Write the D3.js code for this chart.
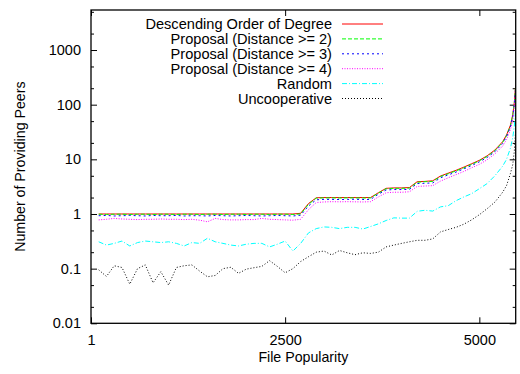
<!DOCTYPE html>
<html>
<head>
<meta charset="utf-8">
<script src="https://cdn.jsdelivr.net/npm/d3@7"></script>
<style>
  html, body { margin: 0; padding: 0; background: #fff; }
  svg { display: block; font-family: "Liberation Sans", Arial, sans-serif; }
</style>
</head>
<body>
<svg id="chart" width="520" height="374"></svg>
<script>
// File popularity rank (x) at which each series was sampled
const popularity = [
  100, 200, 300, 400, 500, 600, 700, 800, 900, 1000,
  1100, 1200, 1300, 1400, 1500, 1600, 1700, 1800, 1900, 2000,
  2100, 2200, 2300, 2400, 2500, 2600, 2700, 2800, 2900, 3000,
  3100, 3200, 3300, 3400, 3500, 3600, 3700, 3800, 3900, 4000,
  4100, 4200, 4300, 4400, 4500, 4600, 4700, 4800, 4900, 5000,
  5100, 5200, 5300, 5350, 5400, 5430, 5450, 5468
];

// Number of providing peers per strategy
const descendingOrder = [
  1, 1, 1, 1, 1, 1, 1, 1, 1, 1,
  1, 1, 1, 1, 1, 1, 1, 1, 1, 1,
  1, 1, 1, 1, 1, 1, 1.03, 1.55, 1.98, 2,
  2, 2, 2, 2, 2, 2, 2.45, 2.95, 3, 3,
  3.05, 3.9, 3.95, 4.05, 4.95, 5.6, 6.3, 7.2, 8.3, 9.6,
  11.6, 14.8, 21, 28, 42, 65, 110, 230
];
const proposalDist2 = [
  0.99, 0.98, 0.99, 0.99, 0.98, 0.99, 0.99, 0.98, 0.99, 0.99,
  0.98, 0.99, 0.99, 0.98, 0.99, 0.99, 0.98, 0.99, 0.99, 0.98,
  0.99, 0.99, 0.98, 0.99, 0.99, 0.98, 1.0, 1.5, 1.95, 1.97,
  1.97, 1.96, 1.97, 1.97, 1.96, 1.97, 2.4, 2.9, 2.95, 2.95,
  2.97, 3.8, 3.9, 3.95, 4.85, 5.45, 6.15, 7.0, 8.1, 9.4,
  11.3, 14.4, 20.5, 27, 41, 63, 105, 225
];
const proposalDist3 = [
  0.93, 0.94, 0.92, 0.93, 0.94, 0.93, 0.92, 0.94, 0.93, 0.93,
  0.94, 0.92, 0.93, 0.93, 0.92, 0.94, 0.93, 0.92, 0.93, 0.94,
  0.93, 0.92, 0.93, 0.94, 0.93, 0.92, 0.95, 1.4, 1.82, 1.85,
  1.85, 1.84, 1.85, 1.86, 1.84, 1.85, 2.3, 2.75, 2.8, 2.8,
  2.82, 3.6, 3.65, 3.7, 4.6, 5.2, 5.85, 6.7, 7.7, 9.0,
  10.8, 13.8, 19.5, 26, 39, 60, 100, 215
];
const proposalDist4 = [
  0.78, 0.8, 0.83, 0.81, 0.8, 0.79, 0.8, 0.8, 0.81, 0.8,
  0.8, 0.79, 0.8, 0.77, 0.72, 0.83, 0.79, 0.78, 0.78, 0.79,
  0.79, 0.83, 0.8, 0.79, 0.78, 0.77, 0.8, 1.2, 1.62, 1.66,
  1.68, 1.67, 1.68, 1.67, 1.66, 1.68, 2.05, 2.45, 2.5, 2.5,
  2.55, 3.2, 3.25, 3.3, 4.0, 4.6, 5.25, 6.0, 7.0, 8.1,
  9.8, 12.6, 17.5, 23, 35, 52, 90, 190
];
const randomChoice = [
  0.31, 0.27, 0.29, 0.32, 0.26, 0.3, 0.32, 0.31, 0.3, 0.31,
  0.29, 0.26, 0.3, 0.29, 0.36, 0.31, 0.29, 0.27, 0.26, 0.28,
  0.29, 0.29, 0.25, 0.28, 0.32, 0.21, 0.29, 0.45, 0.54, 0.58,
  0.57, 0.54, 0.57, 0.57, 0.53, 0.59, 0.66, 0.76, 0.85, 0.84,
  0.84, 1.12, 1.17, 1.13, 1.35, 1.42, 1.75, 2.05, 2.35, 2.9,
  3.6, 5.0, 7.5, 10, 16, 25, 40, 90
];
const uncooperative = [
  0.095, 0.072, 0.113, 0.105, 0.052, 0.1, 0.117, 0.055, 0.088, 0.05,
  0.105, 0.113, 0.117, 0.09, 0.071, 0.075, 0.1, 0.106, 0.082, 0.098,
  0.104, 0.11, 0.14, 0.11, 0.084, 0.1, 0.135, 0.165, 0.2, 0.21,
  0.178, 0.215, 0.195, 0.18, 0.195, 0.19, 0.2, 0.25, 0.27, 0.29,
  0.31, 0.33, 0.33, 0.35, 0.47, 0.52, 0.57, 0.65, 0.78, 0.97,
  1.25, 1.65, 2.5, 3.3, 5.5, 8, 14, 35
];

const seriesNames = [
  "Descending Order of Degree",
  "Proposal (Distance >= 2)",
  "Proposal (Distance >= 3)",
  "Proposal (Distance >= 4)",
  "Random",
  "Uncooperative"
];
const xTickValues = [1, 2500, 5000];
const yTickValues = [0.01, 0.1, 1, 10, 100, 1000];
const yTickLabels = ["0.01", "0.1", "1", "10", "100", "1000"];

const series = [
  { name: seriesNames[0], values: descendingOrder, color: "#ff0000", dash: null },
  { name: seriesNames[1], values: proposalDist2,  color: "#00ff00", dash: "4,2" },
  { name: seriesNames[2], values: proposalDist3,  color: "#0000ff", dash: "2,3" },
  { name: seriesNames[3], values: proposalDist4,  color: "#ff00ff", dash: "1,1.5" },
  { name: seriesNames[4], values: randomChoice,   color: "#00ffff", dash: "5,2,1,2" },
  { name: seriesNames[5], values: uncooperative,  color: "#000000", dash: "1,2" }
];

const svg = d3.select("#chart");
const plot = { left: 91, right: 515.7, top: 10, bottom: 323.3 };

const x = d3.scaleLinear().domain([1, 5468]).range([plot.left, plot.right]);
const y = d3.scaleLog().domain([0.01, 5400]).range([plot.bottom, plot.top]);

// Minor ticks at 2x and 5x of each decade
const minorY = [];
[0.01, 0.1, 1, 10, 100, 1000].forEach(d => { minorY.push(d * 2, d * 5); });
const minorYIn = minorY.filter(v => y(v) >= plot.top);

svg.append("defs").append("clipPath").attr("id", "plotClip")
  .append("rect")
  .attr("x", plot.left).attr("y", plot.top)
  .attr("width", plot.right - plot.left).attr("height", plot.bottom - plot.top);

// Axes with inward ticks, mirrored on top and right
function styleAxis(g) {
  g.select(".domain").remove();
  g.selectAll(".tick line").attr("stroke", "#000").attr("stroke-width", 1);
  g.selectAll(".tick text").attr("fill", "#000").style("font-size", "14.5px")
    .style("font-family", '"Liberation Sans", Arial, sans-serif');
}

svg.append("g")
  .attr("transform", `translate(${plot.left},0)`)
  .call(d3.axisLeft(y).tickValues(yTickValues).tickSizeInner(-6).tickSizeOuter(0)
    .tickPadding(10).tickFormat((d, i) => yTickLabels[i]))
  .call(styleAxis);
svg.append("g")
  .attr("transform", `translate(${plot.left},0)`)
  .call(d3.axisLeft(y).tickValues(minorYIn).tickSizeInner(-3).tickSizeOuter(0).tickFormat(""))
  .call(styleAxis);
svg.append("g")
  .attr("transform", `translate(${plot.right},0)`)
  .call(d3.axisRight(y).tickValues(yTickValues).tickSizeInner(-6).tickSizeOuter(0).tickFormat(""))
  .call(styleAxis);
svg.append("g")
  .attr("transform", `translate(${plot.right},0)`)
  .call(d3.axisRight(y).tickValues(minorYIn).tickSizeInner(-3).tickSizeOuter(0).tickFormat(""))
  .call(styleAxis);

svg.append("g")
  .attr("transform", `translate(0,${plot.bottom})`)
  .call(d3.axisBottom(x).tickValues(xTickValues).tickSizeInner(-6).tickSizeOuter(0)
    .tickPadding(11).tickFormat(d3.format("d")))
  .call(styleAxis);
svg.append("g")
  .attr("transform", `translate(0,${plot.top})`)
  .call(d3.axisTop(x).tickValues(xTickValues).tickSizeInner(-6).tickSizeOuter(0).tickFormat(""))
  .call(styleAxis);

// Series lines
const line = d3.line()
  .x((d, i) => x(popularity[i]))
  .y(d => y(d));

const lines = svg.append("g").attr("clip-path", "url(#plotClip)");
series.forEach(s => {
  lines.append("path")
    .datum(s.values)
    .attr("fill", "none")
    .attr("stroke", s.color)
    .attr("stroke-width", 1)
    .attr("stroke-dasharray", s.dash)
    .attr("d", line);
});

// Frame
svg.append("rect")
  .attr("x", plot.left).attr("y", plot.top)
  .attr("width", plot.right - plot.left).attr("height", plot.bottom - plot.top)
  .attr("fill", "none").attr("stroke", "#000").attr("stroke-width", 1.3);

// Legend (text right-aligned, sample line to its right)
const legend = svg.append("g");
const legendTextX = 332, legendLineX0 = 342, legendLineX1 = 383;
const legendY0 = 24, legendStep = 14.9;
series.forEach((s, i) => {
  const cy = legendY0 + i * legendStep;
  legend.append("text")
    .attr("x", legendTextX).attr("y", cy)
    .attr("dy", "0.35em")
    .attr("text-anchor", "end")
    .style("font-size", "14.6px")
    .text(s.name);
  legend.append("line")
    .attr("x1", legendLineX0).attr("x2", legendLineX1)
    .attr("y1", cy).attr("y2", cy)
    .attr("stroke", s.color)
    .attr("stroke-width", 1)
    .attr("stroke-dasharray", s.dash);
});

// Axis titles
svg.append("text")
  .attr("x", (plot.left + plot.right) / 2).attr("y", 357)
  .attr("dy", "0.35em")
  .attr("text-anchor", "middle")
  .style("font-size", "14.2px")
  .text("File Popularity");

svg.append("text")
  .attr("transform", `translate(20,${(plot.top + plot.bottom) / 2}) rotate(-90)`)
  .attr("dy", "0.35em")
  .attr("text-anchor", "middle")
  .style("font-size", "14.2px")
  .text("Number of Providing Peers");
</script>
</body>
</html>
